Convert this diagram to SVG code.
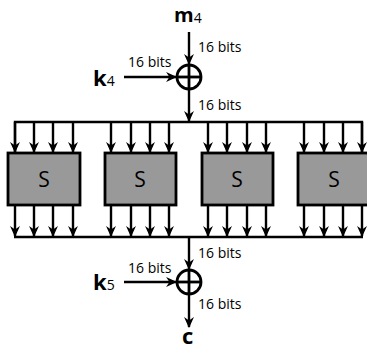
<svg xmlns="http://www.w3.org/2000/svg" width="367" height="349" viewBox="0 0 367 349">
<style>
.ln{stroke:#000;stroke-width:2.4;fill:none}
.ar{stroke:#000;stroke-width:2.4;fill:none;marker-end:url(#ah)}
.xor{stroke:#000;stroke-width:2.8;fill:none}
.box{fill:#999999;stroke:#000;stroke-width:2.8}
.lbl{font-family:"Open Sans",sans-serif;font-size:14px;fill:#000}
.sl{font-family:"Open Sans",sans-serif;font-size:21px;fill:#000;text-anchor:middle}
.var{font-family:"Open Sans",sans-serif;font-size:22px;font-weight:bold;fill:#000}
.top{font-size:20px}
.sub{font-family:"Open Sans",sans-serif;font-size:14px;font-weight:normal}
</style>
<defs>
<marker id="ah" viewBox="0 0 10 10" refX="9" refY="5" markerWidth="11" markerHeight="11" markerUnits="userSpaceOnUse" orient="auto">
<path d="M0,0.5 L10,5 L0,9.5 L3,5 z" fill="#000"/>
</marker>
</defs>
<g id="connectors">
<line class="ar" x1="189" y1="32" x2="189" y2="64"/>
<line class="ar" x1="124" y1="77" x2="176" y2="77"/>
<line class="ar" x1="189" y1="89" x2="189" y2="121"/>
<polyline class="ln" points="15,153 15,122 362,122 362,153"/>
<g id="top-arrows">
<line class="ar" x1="15" y1="122" x2="15" y2="152"/>
<line class="ar" x1="34" y1="122" x2="34" y2="152"/>
<line class="ar" x1="53" y1="122" x2="53" y2="152"/>
<line class="ar" x1="73" y1="122" x2="73" y2="152"/>
<line class="ar" x1="111" y1="122" x2="111" y2="152"/>
<line class="ar" x1="131" y1="122" x2="131" y2="152"/>
<line class="ar" x1="150" y1="122" x2="150" y2="152"/>
<line class="ar" x1="169" y1="122" x2="169" y2="152"/>
<line class="ar" x1="208" y1="122" x2="208" y2="152"/>
<line class="ar" x1="227" y1="122" x2="227" y2="152"/>
<line class="ar" x1="247" y1="122" x2="247" y2="152"/>
<line class="ar" x1="266" y1="122" x2="266" y2="152"/>
<line class="ar" x1="304" y1="122" x2="304" y2="152"/>
<line class="ar" x1="324" y1="122" x2="324" y2="152"/>
<line class="ar" x1="343" y1="122" x2="343" y2="152"/>
<line class="ar" x1="362" y1="122" x2="362" y2="152"/>
</g>
<g id="bottom-arrows">
<line class="ar" x1="15" y1="206" x2="15" y2="236"/>
<line class="ar" x1="34" y1="206" x2="34" y2="236"/>
<line class="ar" x1="53" y1="206" x2="53" y2="236"/>
<line class="ar" x1="73" y1="206" x2="73" y2="236"/>
<line class="ar" x1="111" y1="206" x2="111" y2="236"/>
<line class="ar" x1="131" y1="206" x2="131" y2="236"/>
<line class="ar" x1="150" y1="206" x2="150" y2="236"/>
<line class="ar" x1="169" y1="206" x2="169" y2="236"/>
<line class="ar" x1="208" y1="206" x2="208" y2="236"/>
<line class="ar" x1="227" y1="206" x2="227" y2="236"/>
<line class="ar" x1="247" y1="206" x2="247" y2="236"/>
<line class="ar" x1="266" y1="206" x2="266" y2="236"/>
<line class="ar" x1="304" y1="206" x2="304" y2="236"/>
<line class="ar" x1="324" y1="206" x2="324" y2="236"/>
<line class="ar" x1="343" y1="206" x2="343" y2="236"/>
<line class="ar" x1="362" y1="206" x2="362" y2="236"/>
</g>
<line class="ln" x1="14" y1="237" x2="363" y2="237"/>
<line class="ar" x1="189" y1="237" x2="189" y2="269"/>
<line class="ar" x1="124" y1="282" x2="176" y2="282"/>
<line class="ar" x1="189" y1="294" x2="189" y2="327"/>
</g>
<g id="xor1">
<circle class="xor" cx="189" cy="77" r="12"/>
<line class="xor" x1="177" y1="77" x2="201" y2="77"/>
<line class="xor" x1="189" y1="65" x2="189" y2="89"/>
</g>
<g id="xor2">
<circle class="xor" cx="189" cy="282" r="12"/>
<line class="xor" x1="177" y1="282" x2="201" y2="282"/>
<line class="xor" x1="189" y1="270" x2="189" y2="294"/>
</g>
<g id="s1"><rect class="box" x="8" y="153" width="72" height="52"/><text class="sl" x="44" y="187">S</text></g>
<g id="s2"><rect class="box" x="105" y="153" width="71" height="52"/><text class="sl" x="140" y="187">S</text></g>
<g id="s3"><rect class="box" x="202" y="153" width="71" height="52"/><text class="sl" x="237" y="187">S</text></g>
<g id="s4"><rect class="box" x="298" y="153" width="72" height="52"/><text class="sl" x="334" y="187">S</text></g>
<g id="labels">
<text class="var top" x="174" y="22">m<tspan class="sub" dy="1">4</tspan></text>
<text class="var" x="93" y="86">k<tspan class="sub" dy="0">4</tspan></text>
<text class="var" x="93" y="290">k<tspan class="sub" dy="0">5</tspan></text>
<text class="var" x="182" y="344">c</text>
<text class="lbl" x="198" y="52">16 bits</text>
<text class="lbl" x="128" y="67">16 bits</text>
<text class="lbl" x="198" y="110">16 bits</text>
<text class="lbl" x="198" y="258">16 bits</text>
<text class="lbl" x="128" y="273">16 bits</text>
<text class="lbl" x="198" y="309">16 bits</text>
</g>
</svg>
